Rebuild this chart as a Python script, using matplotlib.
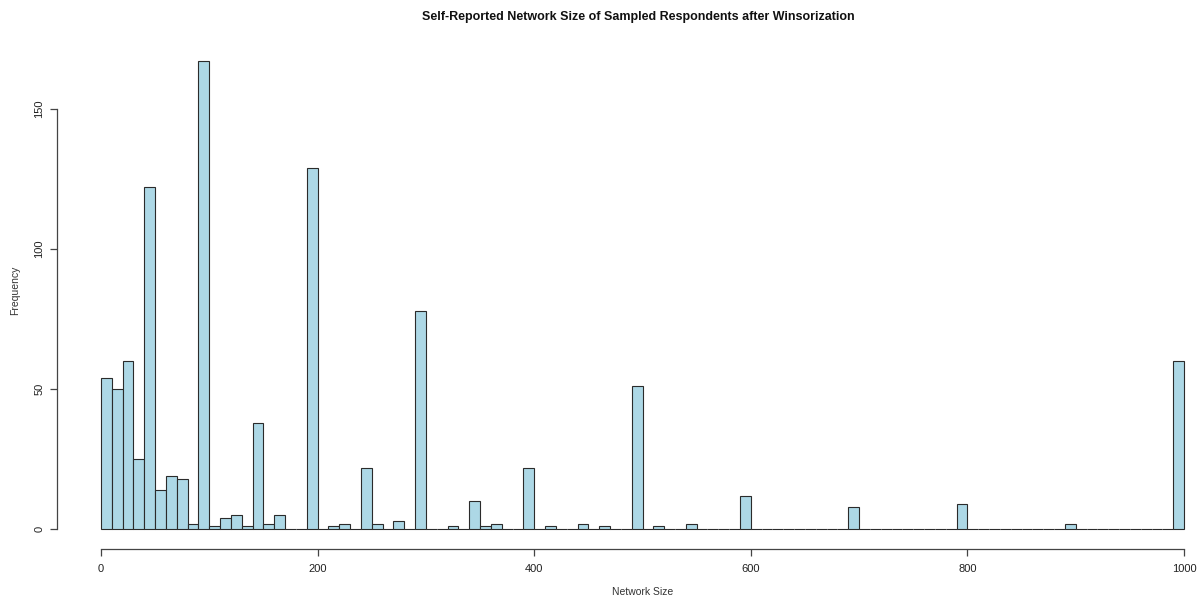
import matplotlib
matplotlib.use("Agg")
import matplotlib.pyplot as plt
import numpy as np

plt.rcParams['font.family'] = ['Liberation Sans', 'DejaVu Sans']

bin_width = 10
bin_starts = list(range(0, 1000, bin_width))
counts = [
    54, 50, 60, 25, 122, 14, 19, 18, 2, 167,
    1, 4, 5, 1, 38, 2, 5, 0, 0, 129,
    0, 1, 2, 0, 22, 2, 0, 3, 0, 78,
    0, 0, 1, 0, 10, 1, 2, 0, 0, 22,
    0, 1, 0, 0, 2, 0, 1, 0, 0, 51,
    0, 1, 0, 0, 2, 0, 0, 0, 0, 12,
    0, 0, 0, 0, 0, 0, 0, 0, 0, 8,
    0, 0, 0, 0, 0, 0, 0, 0, 0, 9,
    0, 0, 0, 0, 0, 0, 0, 0, 0, 2,
    0, 0, 0, 0, 0, 0, 0, 0, 0, 60,
]
x_ticks = [0, 200, 400, 600, 800, 1000]
y_ticks = [0, 50, 100, 150]
title = "Self-Reported Network Size of Sampled Respondents after Winsorization"
xlabel = "Network Size"
ylabel = "Frequency"

W, H = 1199, 600
fig = plt.figure(figsize=(W / 100, H / 100), dpi=100)
left, right = 57 / W, 1.0
bottom, top = 1 - 548.5 / H, 1 - 42.6 / H
ax = fig.add_axes([left, bottom, right - left, top - bottom])

ax.bar(bin_starts, counts, width=bin_width, align='edge',
       color='#ADD8E6', edgecolor='#2b2b2b', linewidth=0.8)

ax.set_xlim(-40.6, 1013.8)
ax.set_ylim(-6.9, 173.68)

for s in ['top', 'right']:
    ax.spines[s].set_visible(False)
ax.spines['bottom'].set_bounds(0, 1000)
ax.spines['left'].set_bounds(0, 150)
for s in ['bottom', 'left']:
    ax.spines[s].set_color('#444444')
    ax.spines[s].set_linewidth(0.9)

ax.set_xticks(x_ticks)
ax.set_xticklabels([str(v) for v in x_ticks])
ax.set_yticks(y_ticks)
ax.set_yticklabels([str(v) for v in y_ticks], rotation=90, va='center')
ax.tick_params(axis='both', direction='out', length=5, width=0.9,
               color='#444444', labelsize=8, labelcolor='#222222')
ax.tick_params(axis='x', pad=6)
ax.tick_params(axis='y', pad=4)

fig.text((W / 2 + 39) / W, 1 - 17 / H, title, ha='center', va='center',
         fontsize=9, fontweight='bold', color='#111111')
fig.text((101 + 1184) / 2 / W, 1 - 592 / H, xlabel, ha='center', va='center',
         fontsize=7.5, color='#333333')
fig.text(15 / W, 1 - 290 / H, ylabel, ha='center', va='center',
         rotation=90, fontsize=7.5, color='#333333')

fig.savefig("out.png", dpi=100)
